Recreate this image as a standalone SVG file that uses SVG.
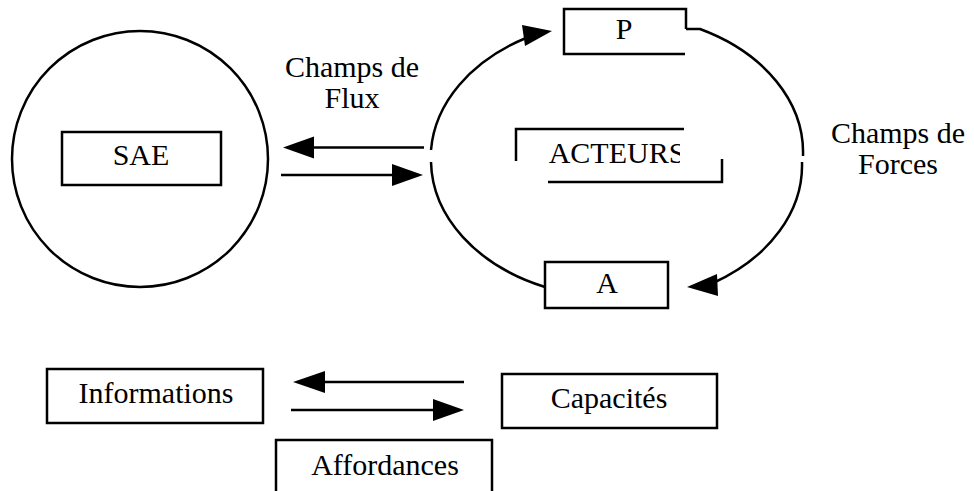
<svg xmlns="http://www.w3.org/2000/svg" width="974" height="491" viewBox="0 0 974 491">
<style>
.s{fill:none;stroke:#000;stroke-width:2.5}
.t{font-family:'Liberation Serif',Tinos,'Times New Roman',Times,'DejaVu Serif',serif;font-size:30px;fill:#000;text-anchor:middle}
.h{fill:#000;stroke:none}
</style>
<defs>
<clipPath id="clipA"><rect x="500" y="120" width="180" height="60"/></clipPath>
</defs>
<rect width="974" height="491" fill="#fff"/>
<g id="sae-circle">
<circle class="s" cx="140" cy="159" r="128"/>
</g>
<g id="sae">
<rect class="s" x="62" y="132" width="159" height="53"/>
<text class="t" x="141" y="165">SAE</text>
</g>
<g id="label-flux">
<text class="t" x="352" y="77">Champs de</text>
<text class="t" x="352" y="108">Flux</text>
</g>
<g id="label-forces">
<text class="t" x="898" y="143">Champs de</text>
<text class="t" x="898" y="174">Forces</text>
</g>
<g id="p">
<path class="s" d="M686,29 V9 H564 V54 H685"/>
<text class="t" x="624" y="39">P</text>
</g>
<g id="acteurs">
<path class="s" d="M516,161 V129 H684"/>
<path class="s" d="M548,182 H722 V159"/>
<text class="t" x="617" y="163" clip-path="url(#clipA)">ACTEURS</text>
</g>
<g id="a">
<rect class="s" x="545" y="262" width="123" height="46"/>
<text class="t" x="607" y="293">A</text>
</g>
<g id="informations">
<rect class="s" x="47" y="369" width="216" height="54"/>
<text class="t" x="156" y="403">Informations</text>
</g>
<g id="capacites">
<rect class="s" x="502" y="374" width="215" height="54"/>
<text class="t" x="609" y="408">Capacités</text>
</g>
<g id="affordances">
<path class="s" d="M276,492 V440 H492 V492"/>
<text class="t" x="385" y="475">Affordances</text>
</g>
<g id="connectors">
<path class="s" d="M424,147.5 H310"/>
<polygon class="h" points="283,147.5 314,136.5 314,158.5"/>
<path class="s" d="M281,175 H396"/>
<polygon class="h" points="423,175 392,164 392,186"/>
<path class="s" d="M431,150 A186,138 0 0 1 526,38"/>
<polygon class="h" points="552,31 522,25 525,46"/>
<path class="s" d="M431,162 A186,138 0 0 0 545,287"/>
<path class="s" d="M686,29 H700 A186,138 0 0 1 803,156"/>
<path class="s" d="M802,162 A186,138 0 0 1 713,283"/>
<polygon class="h" points="687,287 717,274 718,296"/>
<path class="s" d="M464,382 H322"/>
<polygon class="h" points="293,382 325,371 325,393"/>
<path class="s" d="M291,410 H436"/>
<polygon class="h" points="464,410 433,399 433,421"/>
</g>
</svg>
